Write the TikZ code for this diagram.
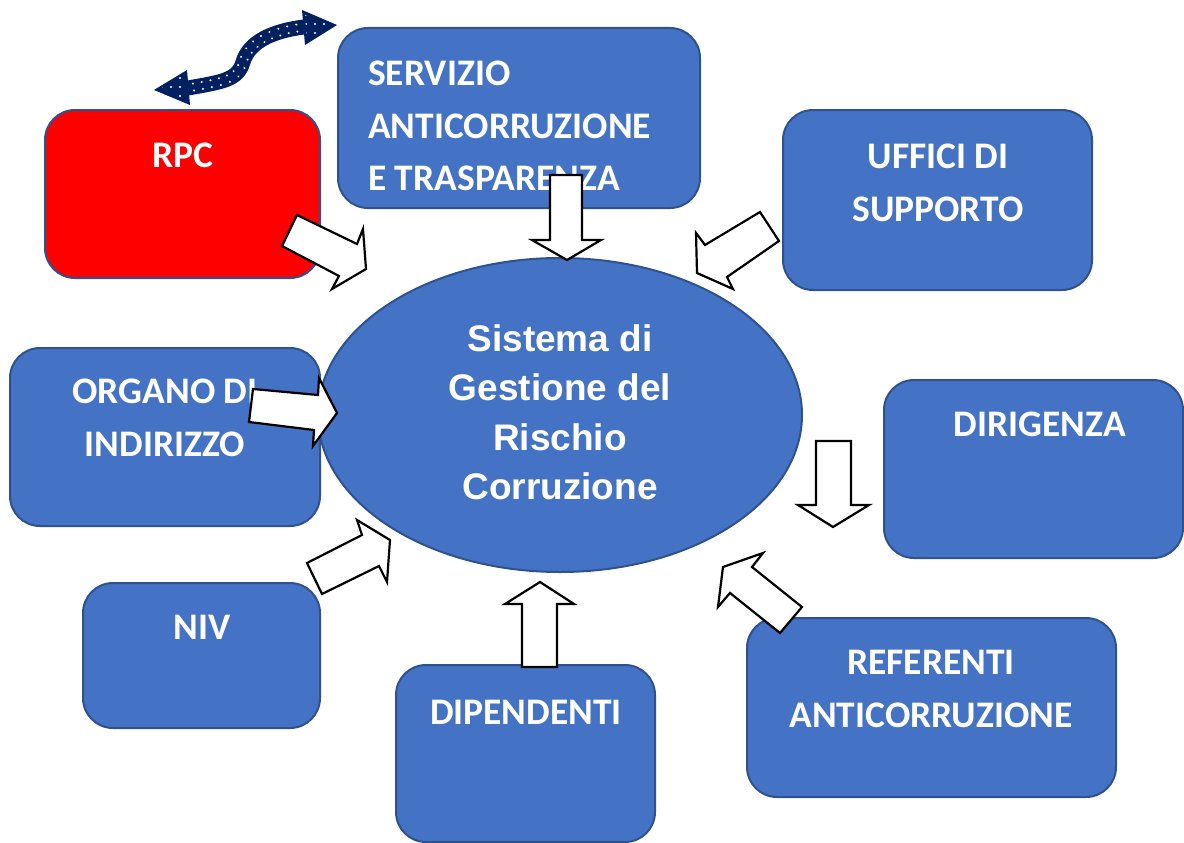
\documentclass[tikz,border=0pt]{standalone}
\usepackage{fontspec}
\setmainfont{Carlito}
\newfontfamily\arialfont{Liberation Sans}
\usepackage{tikz}
\usetikzlibrary{shapes.geometric, decorations.markings, patterns.meta}

\definecolor{boxblue}{HTML}{4472C4}
\definecolor{boxline}{HTML}{2F528F}
\definecolor{navyblue}{HTML}{002060}

\tikzset{
	box/.style={draw=boxline, line width=2pt, fill=boxblue, rounded corners=30pt, inner sep=0pt},
	lbl/.style={text=white, font=\fontsize{37.5}{52.5}\selectfont\bfseries, inner sep=0pt, anchor=north, align=center},
	bigarrow/.style={draw=black, line width=2.2pt, fill=white, line join=miter},
}

\begin{document}
\begin{tikzpicture}[x=1pt, y=-1pt]
	\useasboundingbox (0,0) rectangle (1184,843);

% draw boxes
	\node[box, fill=red, minimum width=275pt, minimum height=168pt] (rpc) at (182.5,194) {};
	\node[box, minimum width=362pt, minimum height=180pt] (serv) at (519,118) {};
	\node[box, minimum width=309pt, minimum height=180pt] (uff) at (937.5,200) {};
	\node[box, minimum width=310pt, minimum height=178pt] (org) at (165,437) {};
	\node[box, minimum width=299pt, minimum height=178pt] (dir) at (1033.5,469) {};
	\node[box, minimum width=237pt, minimum height=145pt] (niv) at (201.5,655.5) {};
	\node[box, minimum width=259pt, minimum height=177pt] (dip) at (525.5,753.5) {};
	\node[box, minimum width=369pt, minimum height=179pt] (ref) at (931.5,707.5) {};

% draw ellipse
	\node[ellipse, draw=boxline, line width=2pt, fill=boxblue, inner sep=0pt,
		minimum width=484pt, minimum height=314pt] (sgrc) at (560,415) {};

% box texts
	\node[lbl] (rpc-t) at (183,143) {RPC};
	\node[lbl, anchor=north west, align=left] (serv-t) at (368,61)
		{SERVIZIO\\ANTICORRUZIONE\\E TRASPARENZA};
	\node[lbl] (uff-t) at (938,144) {UFFICI DI\\SUPPORTO};
	\node[lbl] (org-t) at (165,379) {ORGANO DI\\INDIRIZZO};
	\node[lbl] (dir-t) at (1040,412) {DIRIGENZA};
	\node[lbl] (niv-t) at (202,615) {NIV};
	\node[lbl] (dip-t) at (526,700) {DIPENDENTI};
	\node[lbl] (ref-t) at (931,650) {REFERENTI\\ANTICORRUZIONE};
	\node[lbl, font=\arialfont\fontsize{37}{49.5}\selectfont\bfseries] (sgrc-t) at (560,324)
		{Sistema di\\Gestione del\\Rischio\\Corruzione};

% block arrows
	\draw[bigarrow] (297,215) -- (357,244) -- (363,229) -- (366,269) -- (332,289) -- (339,276) -- (282,246) -- cycle;
	\draw[bigarrow] (550,175) -- (582,175) -- (582,240) -- (601,240) -- (567,260) -- (532,240) -- (550,240) -- cycle;
	\draw[bigarrow] (760,212) -- (705,245) -- (696,233) -- (697,273) -- (733,289) -- (727,277) -- (779,241) -- cycle;
	\draw[bigarrow] (253,389) -- (318,395) -- (319,378) -- (337,413) -- (313,446) -- (314,430) -- (249,422) -- cycle;
	\draw[bigarrow] (816,441) -- (851,441) -- (851,505) -- (869,505) -- (833,527) -- (798,505) -- (816,505) -- cycle;
	\draw[bigarrow] (802,607) -- (780,633) -- (730,593) -- (718,607) -- (723,567) -- (763,553) -- (752,567) -- cycle;
	\draw[bigarrow] (307,563) -- (362,535) -- (357,520) -- (390,540) -- (387,582) -- (379,566) -- (322,594) -- cycle;
	\draw[bigarrow] (522,667) -- (522,604) -- (505,604) -- (540,582) -- (574,604) -- (557,604) -- (557,667) -- cycle;

% wavy double arrow
	\coordinate (w1) at (188,88);
	\coordinate (w2) at (304,27);
	\draw[navyblue, line width=15pt, postaction={decorate},
		decoration={markings, mark=between positions 0.04 and 0.97 step 9pt with
			{\fill[white] (0,3.5) circle (1.1) (0,-3.5) circle (1.1);}}]
		(w1) .. controls (222,82) and (238,80) .. (243,62) .. controls (249,42) and (272,31) .. (w2);
	\fill[navyblue] (154,90) -- (187,70) -- (190,105) -- cycle;
	\fill[navyblue] (337,25) -- (302,10) -- (305,45) -- cycle;
	\fill[pattern={Dots[distance=9pt, radius=1.1pt]}, pattern color=white]
		(160,89) -- (185,74) -- (187,100) -- cycle;
	\fill[pattern={Dots[distance=9pt, radius=1.1pt]}, pattern color=white]
		(330,25) -- (305,15) -- (307,40) -- cycle;

\end{tikzpicture}
\end{document}
